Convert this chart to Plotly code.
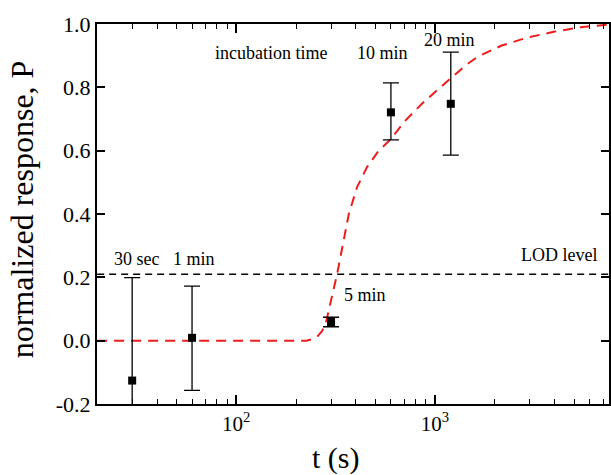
import math
import plotly.graph_objects as go

# measured data
t_sec = [30, 60, 300, 600, 1200]
P_val = [-0.126, 0.009, 0.059, 0.721, 0.748]
err_plus = [0.325, 0.163, 0.015, 0.093, 0.163]
err_minus = [0.325, 0.166, 0.015, 0.087, 0.162]

# fitted curve
fit_t = [20, 225, 240, 255, 270, 282, 322, 341, 368.5, 405.5, 455, 521, 596, 709, 859,
         1041, 1240, 1443, 1652, 2163, 2942, 4002, 5420, 7130, 8000]
fit_P = [0.0, 0.0, 0.004, 0.012, 0.03, 0.054, 0.211, 0.295, 0.40, 0.485, 0.548, 0.60,
         0.635, 0.695, 0.748, 0.795, 0.835, 0.872, 0.898, 0.932, 0.958, 0.976, 0.99,
         0.997, 1.0]

LOD_level = 0.21
LOD_t = [20, 8000]

# annotation texts
labels = ["incubation time", "10 min", "20 min", "30 sec", "1 min", "5 min", "LOD level"]
label_t = [149.6, 542, 1189, 31.5, 61.7, 446, 4200]
label_P = [0.91, 0.908, 0.95, 0.257, 0.257, 0.143, 0.269]

x_ticks = [100, 1000]
x_tick_text = ["10<sup>2</sup>", "10<sup>3</sup>"]
y_ticks = [-0.2, 0.0, 0.2, 0.4, 0.6, 0.8, 1.0]
y_tick_text = ["-0.2", "0.0", "0.2", "0.4", "0.6", "0.8", "1.0"]
minor_x = [20, 30, 40, 50, 60, 70, 80, 90, 200, 300, 400, 500, 600, 700, 800, 900,
           2000, 3000, 4000, 5000, 6000, 7000, 8000, 9000]

FONT = "Liberation Serif"

fig = go.Figure()
fig.add_trace(go.Scatter(x=LOD_t, y=[LOD_level, LOD_level], mode="lines",
                         line=dict(color="black", width=1.5, dash="7px,5px"),
                         showlegend=False, hoverinfo="skip"))
fig.add_trace(go.Scatter(x=fit_t, y=fit_P, mode="lines",
                         line=dict(color="#ee1c1c", width=2, dash="10px,7px"),
                         showlegend=False))
fig.add_trace(go.Scatter(x=t_sec, y=P_val, mode="markers",
                         marker=dict(symbol="square", size=8, color="black"),
                         error_y=dict(type="data", symmetric=False, array=err_plus,
                                      arrayminus=err_minus, color="black",
                                      thickness=1.3, width=8),
                         showlegend=False))

for txt, tx, py in zip(labels, label_t, label_P):
    fig.add_annotation(x=math.log10(tx), y=py, xref="x", yref="y", text=txt,
                       showarrow=False, font=dict(family=FONT, size=18, color="black"))

fig.add_annotation(x=0.467, y=-0.142, xref="paper", yref="paper", text="t (s)",
                   showarrow=False, xanchor="center", yanchor="middle",
                   font=dict(family=FONT, size=30, color="black"))
fig.add_annotation(x=-0.146, y=0.513, xref="paper", yref="paper",
                   text="normalized response, P", textangle=-90,
                   showarrow=False, xanchor="center", yanchor="middle",
                   font=dict(family=FONT, size=32, color="black"))

fig.update_xaxes(type="log", range=[1.3003, 3.8747], tickvals=x_ticks, ticktext=x_tick_text,
                 ticks="inside", ticklen=9, tickwidth=1.5, tickcolor="black",
                 showline=True, linecolor="black", linewidth=2, mirror="allticks",
                 showgrid=False, zeroline=False,
                 tickfont=dict(family=FONT, size=21, color="black"),
                 minor=dict(tickvals=minor_x, ticks="inside", ticklen=5, tickwidth=1.3,
                            tickcolor="black", showgrid=False))
fig.update_yaxes(range=[-0.2, 1.0], tickvals=y_ticks, ticktext=y_tick_text,
                 ticks="inside", ticklen=8, tickwidth=1.5, tickcolor="black",
                 showline=True, linecolor="black", linewidth=2, mirror="allticks",
                 showgrid=False, zeroline=False,
                 tickfont=dict(family=FONT, size=22, color="black"))

fig.update_layout(width=611, height=475, margin=dict(l=97, r=0, t=24, b=71),
                  plot_bgcolor="white", paper_bgcolor="white", showlegend=False)

fig.write_html("out.html", config={"displayModeBar": False},
               post_script="document.body.style.margin='0px';document.body.style.overflow='hidden';")
